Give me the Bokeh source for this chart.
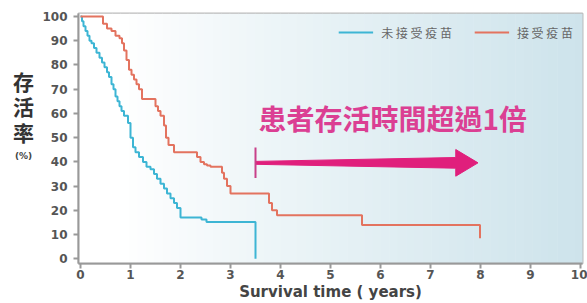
from bokeh.plotting import figure
from bokeh.models import Range1d, BoxAnnotation, FixedTicker, Legend
from bokeh.layouts import row
from bokeh.core.properties import value
from bokeh.embed import file_html
from bokeh.resources import INLINE
import numpy as np

# ---- data ----
blue_label = "未 接 受 疫 苗"
red_label = "接 受 疫 苗"
blue_t = [0, 0.03, 0.06, 0.1, 0.14, 0.18, 0.22, 0.27, 0.32, 0.38, 0.43, 0.48, 0.53, 0.57,
          0.62, 0.66, 0.7, 0.74, 0.78, 0.82, 0.87, 0.95, 1.0, 1.05, 1.1, 1.17, 1.25, 1.32,
          1.4, 1.47, 1.53, 1.6, 1.67, 1.73, 1.8, 1.87, 1.93, 2.0, 2.42, 2.52, 3.5]
blue_s = [100, 98, 96, 94, 92, 90, 89, 87, 85, 83, 81, 79, 77, 75,
          72, 70, 67, 65, 63, 61, 59, 56, 50, 46, 44, 42, 40, 38,
          37, 35, 33, 31, 29, 27, 25, 23, 21, 17, 16.2, 15.2, 0]
red_t = [0, 0.45, 0.53, 0.62, 0.7, 0.78, 0.83, 0.87, 0.92, 0.97, 1.02, 1.07, 1.12, 1.17,
         1.23, 1.5, 1.55, 1.6, 1.67, 1.71, 1.76, 1.87, 2.33, 2.4, 2.47, 2.53, 2.6, 2.83,
         2.87, 2.93, 3.0, 3.77, 3.83, 3.93, 5.63, 7.99]
red_s = [100, 97, 95, 94, 92, 91, 89, 86, 82, 78, 76, 74, 72, 70,
         66, 63, 61, 59, 55, 50, 47, 44, 42, 40, 39, 38.5, 38, 35.5,
         33, 30, 27, 23, 20, 18, 14, 8.5]
x_ticks = list(range(0, 11))
y_ticks = list(range(0, 101, 10))
x_title = "Survival time ( years)"
y_title_chars = ["存", "活", "率"]
y_unit = "(%)"
annot_text = "患者存活時間超過1倍"
arrow_start, arrow_end, arrow_y = 3.5, 7.95, 39.6

BLUE = "#3db5d4"
RED = "#e3735f"
PINK = "#e01f7c"

# ---- left strip holding the vertical y title (pixel-like coordinates, top = 0) ----
LW = 36
side = figure(frame_width=LW, frame_height=303, output_backend="svg", toolbar_location=None,
              x_range=Range1d(0, LW), y_range=Range1d(303, 0), title=None,
              min_border=0, outline_line_color=None)
side.axis.visible = False
side.grid.visible = False
side.background_fill_color = "white"
side.border_fill_color = "white"
side.text(x=[23, 23, 23], y=[67, 92, 118], text=y_title_chars,
          text_font=value("Noto Sans CJK TC"), text_font_style="bold",
          text_font_size="21px", text_color="#333333",
          text_align="center", text_baseline="middle")
side.text(x=[23], y=[142], text=[y_unit],
          text_font=value("DejaVu Sans"), text_font_style="bold",
          text_font_size="9px", text_color="#444444",
          text_align="center", text_baseline="middle")

# ---- main chart ----
p = figure(width=587 - LW, height=303, output_backend="svg", toolbar_location=None,
           x_range=Range1d(-0.04, 10.04), y_range=Range1d(-1.93, 101.23), title=None,
           min_border_left=78 - LW, min_border_right=5, min_border_top=13,
           min_border_bottom=39)
p.background_fill_color = "white"
p.border_fill_color = "white"
p.outline_line_color = "#bbbbbb"
p.outline_line_width = 2
p.grid.visible = False

# background gradient
n = 60
c0 = np.array([255, 255, 255])
c1 = np.array([205, 227, 235])
edges = np.linspace(-0.04, 10.04, n + 1)
for i in range(n):
    f = max(0.0, (edges[i] - 0.7) / (10.04 - 0.7))
    c = c0 + (c1 - c0) * (f ** 0.9)
    col = "#%02x%02x%02x" % tuple(int(round(v)) for v in c)
    p.add_layout(BoxAnnotation(left=edges[i], right=edges[i + 1] + 0.01,
                               fill_color=col, fill_alpha=1, line_alpha=0, level="underlay"))

rb = p.step(blue_t, blue_s, mode="after", line_color=BLUE, line_width=2)
rr = p.step(red_t, red_s, mode="after", line_color=RED, line_width=2)

legend = Legend(items=[(blue_label, [rb]), (red_label, [rr])], location="top_right",
                orientation="horizontal", background_fill_alpha=0, border_line_alpha=0,
                label_text_font="Noto Sans CJK TC", label_text_font_size="12px",
                label_text_color="#666666", glyph_width=35, spacing=22, margin=6,
                label_standoff=8, padding=3)
p.add_layout(legend)

# arrow
L = arrow_end - arrow_start
head_start = arrow_start + 0.9 * L
ax = [arrow_start, head_start, head_start, arrow_end, head_start, head_start, arrow_start]
ay = [arrow_y + 0.6, arrow_y + 2.2, arrow_y + 5.5, arrow_y, arrow_y - 5.5, arrow_y - 2.2, arrow_y - 0.6]
p.patch(ax, ay, fill_color=PINK, line_color=PINK, line_width=1)
p.segment(x0=[arrow_start], y0=[arrow_y - 6.3], x1=[arrow_start], y1=[arrow_y + 6.3],
          line_color="#c8408a", line_width=2)
p.text(x=[arrow_start + 0.06], y=[arrow_y + 18.5], text=[annot_text],
       text_font=value("Noto Sans CJK TC"), text_font_size="28px", text_font_style="bold",
       text_color="#db3f93", text_baseline="middle", text_align="left")

for axis in (p.xaxis, p.yaxis):
    axis.axis_line_color = "#999999"
    axis.axis_line_width = 2
    axis.major_tick_line_color = "#999999"
    axis.major_tick_line_width = 2
    axis.major_tick_out = 5
    axis.major_tick_in = 0
    axis.minor_tick_line_color = None
    axis.major_label_text_color = "#555555"
    axis.major_label_text_font = "DejaVu Sans"
    axis.major_label_text_font_style = "bold"
    axis.major_label_text_font_size = "12px"

p.xaxis.ticker = FixedTicker(ticks=x_ticks)
p.yaxis.ticker = FixedTicker(ticks=y_ticks)
p.xaxis.major_label_standoff = 1
p.yaxis.major_label_standoff = 6
p.xaxis.axis_label = x_title
p.xaxis.axis_label_text_font = "DejaVu Sans"
p.xaxis.axis_label_text_font_style = "bold"
p.xaxis.axis_label_text_font_size = "15px"
p.xaxis.axis_label_text_color = "#444444"
p.xaxis.axis_label_standoff = 1

layout = row(side, p, spacing=0)
open("out.html", "w").write(file_html(layout, INLINE))
